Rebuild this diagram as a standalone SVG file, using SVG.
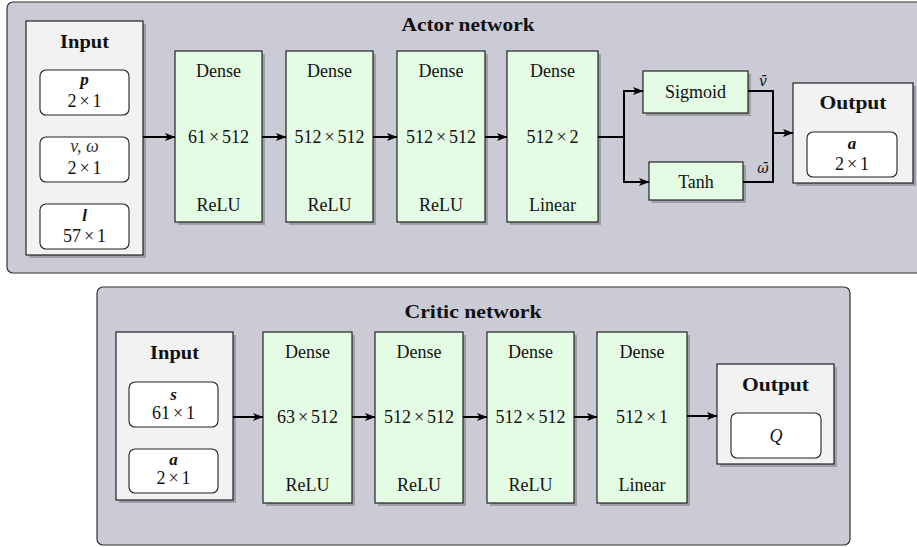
<svg xmlns="http://www.w3.org/2000/svg" width="917" height="547" viewBox="0 0 917 547">
<defs>
<marker id="ah" markerUnits="userSpaceOnUse" markerWidth="11" markerHeight="9" refX="10" refY="4.5" orient="auto">
<path d="M0,0.5 L10.5,4.5 L0,8.5 L2.5,4.5 z" fill="#000"/>
</marker>
</defs>
<style>
text{font-family:"Liberation Serif","Times New Roman",serif;font-size:18px;fill:#111;text-anchor:middle}
.b{font-weight:bold}
.bi{font-weight:bold;font-style:italic;font-size:17px}
.i{font-style:italic}
.bar{font-family:"DejaVu Serif",serif;font-style:italic;font-size:14px}
.cont{fill:#cbcbd6;stroke:#333;stroke-width:1.2}
.sh{fill:#9e9ea6}
.io{fill:#f2f2f2;stroke:#222;stroke-width:1.2}
.in{fill:#fff;stroke:#222;stroke-width:1.1}
.dn{fill:#e4fce4;stroke:#222;stroke-width:1.2}
.ln{fill:none;stroke:#000;stroke-width:2}
.ar{fill:none;stroke:#000;stroke-width:2;marker-end:url(#ah)}
</style>

<!-- Actor network -->
<g id="actor">
<rect class="cont" x="7" y="2" width="925" height="271" rx="6"/>
<text class="b" x="468" y="31" textLength="133" lengthAdjust="spacingAndGlyphs">Actor network</text>
</g>
<g id="actor-input">
<rect class="sh" x="29" y="24" width="117" height="234"/>
<rect class="io" x="26" y="21" width="117" height="234"/>
<text class="b" x="84.5" y="48" textLength="49" lengthAdjust="spacingAndGlyphs">Input</text>
<rect class="in" x="40" y="70" width="89" height="45" rx="6"/>
<text class="bi" x="84.5" y="85">p</text>
<text x="84.5" y="107">2<tspan dx="3">×</tspan><tspan dx="3">1</tspan></text>
<rect class="in" x="40" y="137" width="89" height="45" rx="6"/>
<text class="i" x="84.5" y="152" style="fill:#333">v, ω</text>
<text x="84.5" y="174">2<tspan dx="3">×</tspan><tspan dx="3">1</tspan></text>
<rect class="in" x="40" y="204" width="89" height="45" rx="6"/>
<text class="bi" x="84.5" y="221">l</text>
<text x="84.5" y="242">57<tspan dx="3">×</tspan><tspan dx="3">1</tspan></text>
</g>
<g id="actor-dense1">
<rect class="sh" x="178" y="54" width="87" height="171"/>
<rect class="dn" x="175" y="51" width="87" height="171"/>
<text x="218.5" y="77">Dense</text>
<text x="218.5" y="143">61<tspan dx="3">×</tspan><tspan dx="3">512</tspan></text>
<text x="218.5" y="211">ReLU</text>
</g>
<g id="actor-dense2">
<rect class="sh" x="289" y="54" width="87" height="171"/>
<rect class="dn" x="286" y="51" width="87" height="171"/>
<text x="329.5" y="77">Dense</text>
<text x="329.5" y="143">512<tspan dx="3">×</tspan><tspan dx="3">512</tspan></text>
<text x="329.5" y="211">ReLU</text>
</g>
<g id="actor-dense3">
<rect class="sh" x="400" y="54" width="88" height="171"/>
<rect class="dn" x="397" y="51" width="88" height="171"/>
<text x="441" y="77">Dense</text>
<text x="441" y="143">512<tspan dx="3">×</tspan><tspan dx="3">512</tspan></text>
<text x="441" y="211">ReLU</text>
</g>
<g id="actor-dense4">
<rect class="sh" x="510" y="54" width="91" height="171"/>
<rect class="dn" x="507" y="51" width="91" height="171"/>
<text x="552.5" y="77">Dense</text>
<text x="552.5" y="143">512<tspan dx="3">×</tspan><tspan dx="3">2</tspan></text>
<text x="552.5" y="211">Linear</text>
</g>
<g id="actor-sigmoid">
<rect class="sh" x="646" y="74" width="105" height="42"/>
<rect class="dn" x="643" y="71" width="105" height="42"/>
<text x="695.5" y="98">Sigmoid</text>
</g>
<g id="actor-tanh">
<rect class="sh" x="652" y="165" width="94" height="38"/>
<rect class="dn" x="649" y="162" width="94" height="38"/>
<text x="696" y="188">Tanh</text>
</g>
<g id="actor-output">
<rect class="sh" x="796" y="86" width="120" height="100"/>
<rect class="io" x="793" y="83" width="120" height="100"/>
<text class="b" x="853" y="109" textLength="67" lengthAdjust="spacingAndGlyphs">Output</text>
<rect class="in" x="807" y="132" width="90" height="45" rx="6"/>
<text class="bi" x="852" y="149">a</text>
<text x="852" y="170">2<tspan dx="3">×</tspan><tspan dx="3">1</tspan></text>
</g>

<!-- Critic network -->
<g id="critic">
<rect class="cont" x="97" y="287" width="753" height="258" rx="6"/>
<text class="b" x="473" y="318" textLength="137" lengthAdjust="spacingAndGlyphs">Critic network</text>
</g>
<g id="critic-input">
<rect class="sh" x="119" y="335" width="117" height="168"/>
<rect class="io" x="116" y="332" width="117" height="168"/>
<text class="b" x="174.5" y="359" textLength="49" lengthAdjust="spacingAndGlyphs">Input</text>
<rect class="in" x="129" y="382" width="89" height="45" rx="6"/>
<text class="bi" x="173.5" y="400">s</text>
<text x="173.5" y="419">61<tspan dx="3">×</tspan><tspan dx="3">1</tspan></text>
<rect class="in" x="129" y="449" width="89" height="44" rx="6"/>
<text class="bi" x="173.5" y="465">a</text>
<text x="173.5" y="484">2<tspan dx="3">×</tspan><tspan dx="3">1</tspan></text>
</g>
<g id="critic-dense1">
<rect class="sh" x="266" y="335" width="89" height="171"/>
<rect class="dn" x="263" y="332" width="89" height="171"/>
<text x="307.5" y="358">Dense</text>
<text x="307.5" y="423">63<tspan dx="3">×</tspan><tspan dx="3">512</tspan></text>
<text x="307.5" y="491">ReLU</text>
</g>
<g id="critic-dense2">
<rect class="sh" x="378" y="335" width="88" height="171"/>
<rect class="dn" x="375" y="332" width="88" height="171"/>
<text x="419" y="358">Dense</text>
<text x="419" y="423">512<tspan dx="3">×</tspan><tspan dx="3">512</tspan></text>
<text x="419" y="491">ReLU</text>
</g>
<g id="critic-dense3">
<rect class="sh" x="490" y="335" width="87" height="171"/>
<rect class="dn" x="487" y="332" width="87" height="171"/>
<text x="530.5" y="358">Dense</text>
<text x="530.5" y="423">512<tspan dx="3">×</tspan><tspan dx="3">512</tspan></text>
<text x="530.5" y="491">ReLU</text>
</g>
<g id="critic-dense4">
<rect class="sh" x="600" y="335" width="90" height="171"/>
<rect class="dn" x="597" y="332" width="90" height="171"/>
<text x="642" y="358">Dense</text>
<text x="642" y="423">512<tspan dx="3">×</tspan><tspan dx="3">1</tspan></text>
<text x="642" y="491">Linear</text>
</g>
<g id="critic-output">
<rect class="sh" x="720" y="367" width="117" height="100"/>
<rect class="io" x="717" y="364" width="117" height="100"/>
<text class="b" x="775.5" y="391" textLength="67" lengthAdjust="spacingAndGlyphs">Output</text>
<rect class="in" x="731" y="413" width="90" height="45" rx="6"/>
<text class="i" x="776" y="442">Q</text>
</g>

<g id="connectors">
<line class="ar" x1="143" y1="137" x2="175" y2="137"/>
<line class="ar" x1="262" y1="137" x2="286" y2="137"/>
<line class="ar" x1="373" y1="137" x2="397" y2="137"/>
<line class="ar" x1="485" y1="137" x2="507" y2="137"/>
<polyline class="ln" points="598,137 624,137"/>
<polyline class="ar" points="624,137 624,91 643,91"/>
<polyline class="ar" points="624,137 624,182 649,182"/>
<polyline class="ln" points="748,91 773,91 773,182 743,182"/>
<line class="ar" x1="773" y1="133" x2="793" y2="133"/>
<text class="bar" x="763" y="86">v̄</text>
<text class="bar" x="763" y="173">ω̄</text>
<line class="ar" x1="233" y1="417" x2="263" y2="417"/>
<line class="ar" x1="352" y1="417" x2="375" y2="417"/>
<line class="ar" x1="463" y1="417" x2="487" y2="417"/>
<line class="ar" x1="574" y1="417" x2="597" y2="417"/>
<line class="ar" x1="687" y1="416" x2="717" y2="416"/>
</g>
</svg>
